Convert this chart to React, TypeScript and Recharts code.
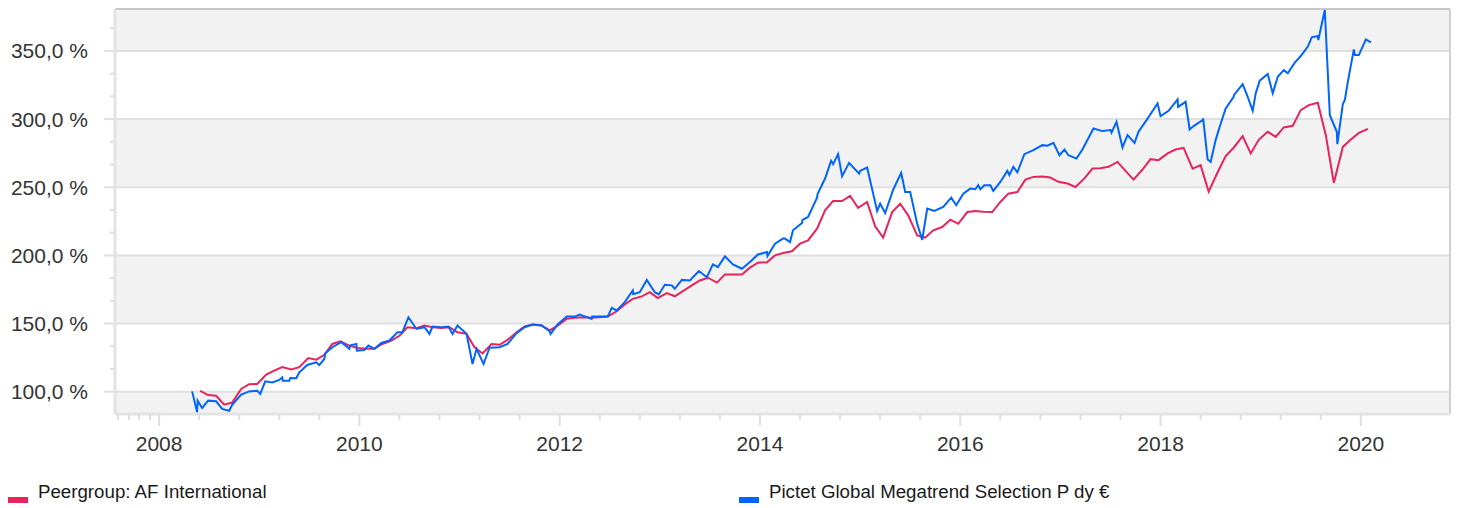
import React from 'react';
import { LineChart, Line, XAxis, YAxis, ReferenceArea, ReferenceLine } from 'recharts';

const peerName = 'Peergroup: AF International';
const fundName = 'Pictet Global Megatrend Selection P dy €';
const peerColor = '#e8245c';
const fundColor = '#0064ff';

const peerYears = [
  2008.41, 2008.49, 2008.57, 2008.65, 2008.73, 2008.82, 2008.90, 2008.98,
  2009.07, 2009.15, 2009.23, 2009.32, 2009.40, 2009.49, 2009.57, 2009.65, 2009.73, 2009.81, 2009.90, 2009.98,
  2010.07, 2010.15, 2010.23, 2010.32, 2010.40, 2010.48, 2010.57, 2010.65, 2010.73, 2010.82, 2010.90, 2010.98,
  2011.07, 2011.15, 2011.23, 2011.32, 2011.40, 2011.48, 2011.57, 2011.65, 2011.73, 2011.82, 2011.90, 2011.98,
  2012.07, 2012.15, 2012.23, 2012.32, 2012.40, 2012.48, 2012.57, 2012.65, 2012.73, 2012.82, 2012.90, 2012.98,
  2013.07, 2013.15, 2013.23, 2013.32, 2013.40, 2013.48, 2013.57, 2013.65, 2013.73, 2013.82, 2013.90, 2013.98,
  2014.07, 2014.15, 2014.23, 2014.32, 2014.40, 2014.48, 2014.57, 2014.65, 2014.73, 2014.82, 2014.90, 2014.98,
  2015.07, 2015.15, 2015.23, 2015.32, 2015.40, 2015.48, 2015.57, 2015.65, 2015.73, 2015.82, 2015.90, 2015.98,
  2016.07, 2016.15, 2016.23, 2016.32, 2016.40, 2016.48, 2016.57, 2016.65, 2016.73, 2016.82, 2016.90, 2016.98,
  2017.07, 2017.15, 2017.24, 2017.32, 2017.40, 2017.48, 2017.57, 2017.65, 2017.73, 2017.82, 2017.90, 2017.98,
  2018.07, 2018.15, 2018.23, 2018.32, 2018.40, 2018.48, 2018.57, 2018.65, 2018.73, 2018.82, 2018.90, 2018.98,
  2019.07, 2019.15, 2019.23, 2019.32, 2019.40, 2019.48, 2019.57, 2019.65, 2019.73, 2019.82, 2019.90, 2019.98,
  2020.07,
];
const peerValues = [
  100.5, 97.5, 97.0, 90.5, 92.0, 102.0, 105.5, 105.6,
  112.5, 115.4, 118.0, 116.2, 118.0, 124.7, 123.5, 127.0, 135.0, 137.0, 133.8, 132.0,
  131.4, 131.4, 135.0, 137.5, 141.0, 147.3, 146.5, 148.5, 147.3, 146.8, 147.3, 143.6,
  142.4, 132.6, 128.0, 135.0, 134.4, 138.0, 143.6, 147.8, 149.3, 148.5, 144.9, 148.5,
  153.4, 154.2, 154.6, 154.2, 154.6, 155.1, 159.0, 164.0, 168.1, 169.9, 173.0, 168.6,
  172.3, 170.0, 173.8, 178.0, 181.6, 183.6, 180.0, 186.0, 186.0, 186.0, 191.0, 194.6,
  195.0, 200.0, 201.7, 203.0, 208.6, 211.0, 219.6, 233.0, 239.9, 239.9, 243.6, 234.8,
  239.2, 221.3, 213.0, 231.8, 237.9, 229.4, 214.7, 213.0, 218.4, 220.8, 226.2, 223.2,
  231.8, 232.6, 232.0, 231.8, 239.2, 245.3, 246.5, 255.6, 257.6, 257.8, 257.1, 254.0,
  252.7, 250.2, 256.5, 263.7, 264.0, 265.0, 268.6, 262.0, 255.6, 263.0, 270.6, 269.9,
  274.8, 277.7, 278.9, 263.7, 266.2, 246.8, 261.0, 272.8, 279.0, 287.5, 274.8, 284.8,
  290.7, 287.0, 293.9, 295.1, 306.6, 310.3, 312.0, 288.2, 253.2, 279.6, 285.0, 289.9,
  292.8,
];

const fundYears = [
  2008.33, 2008.38, 2008.385, 2008.43, 2008.49, 2008.57, 2008.63, 2008.70, 2008.73, 2008.82, 2008.90, 2008.98,
  2009.01, 2009.06, 2009.13, 2009.20, 2009.23, 2009.235, 2009.30, 2009.31, 2009.37, 2009.40, 2009.48, 2009.57,
  2009.60, 2009.65, 2009.66, 2009.73, 2009.82, 2009.90, 2009.91, 2009.97, 2009.975,
  2010.05, 2010.09, 2010.15, 2010.22, 2010.30, 2010.38, 2010.43, 2010.49, 2010.57, 2010.65, 2010.70, 2010.73,
  2010.82, 2010.89, 2010.93, 2010.98,
  2011.07, 2011.13, 2011.17, 2011.24, 2011.30, 2011.40, 2011.48, 2011.57, 2011.65, 2011.73, 2011.82, 2011.90,
  2011.91, 2011.98,
  2012.07, 2012.15, 2012.20, 2012.32, 2012.325, 2012.40, 2012.48, 2012.52, 2012.57, 2012.65, 2012.73, 2012.735,
  2012.80, 2012.87, 2012.95, 2012.99,
  2013.05, 2013.12, 2013.15, 2013.22, 2013.30, 2013.39, 2013.47, 2013.53, 2013.58, 2013.65, 2013.73, 2013.82,
  2013.90, 2013.98,
  2014.07, 2014.075, 2014.15, 2014.23, 2014.25, 2014.30, 2014.33, 2014.42, 2014.425, 2014.48, 2014.57, 2014.575,
  2014.65, 2014.71, 2014.73, 2014.78, 2014.82, 2014.89, 2014.99, 2015.00,
  2015.07, 2015.17, 2015.20, 2015.25, 2015.33, 2015.41, 2015.45, 2015.50, 2015.57, 2015.62, 2015.67, 2015.74,
  2015.83, 2015.91, 2015.96,
  2016.03, 2016.10, 2016.15, 2016.18, 2016.20, 2016.24, 2016.30, 2016.33, 2016.40, 2016.47, 2016.49, 2016.53,
  2016.57, 2016.64, 2016.73, 2016.82, 2016.87, 2016.93, 2016.99,
  2017.04, 2017.08, 2017.16, 2017.22, 2017.33, 2017.42, 2017.50, 2017.51, 2017.56, 2017.62, 2017.67, 2017.74,
  2017.78, 2017.86, 2017.97,
  2018.00, 2018.08, 2018.17, 2018.175, 2018.25, 2018.29, 2018.33, 2018.42, 2018.425, 2018.47, 2018.50, 2018.55,
  2018.58, 2018.585, 2018.65, 2018.73, 2018.735, 2018.82, 2018.87, 2018.92, 2018.95, 2018.99,
  2019.07, 2019.12, 2019.17, 2019.23, 2019.27, 2019.34, 2019.40, 2019.47, 2019.51, 2019.57, 2019.575, 2019.64,
  2019.69, 2019.76, 2019.765, 2019.82, 2019.84, 2019.87, 2019.93, 2019.94, 2019.98,
  2020.05, 2020.10,
];
const fundValues = [
  100.2, 84.8, 93.4, 88.0, 93.4, 92.9, 87.3, 86.0, 90.4, 97.8, 100.2, 100.7,
  98.3, 107.6, 106.8, 108.6, 110.5, 108.0, 108.0, 110.0, 109.8, 114.2, 119.6, 121.5,
  119.5, 124.0, 128.2, 132.6, 136.3, 131.4, 134.0, 135.0, 130.1,
  130.6, 133.8, 131.4, 135.8, 137.5, 143.6, 143.6, 154.6, 146.0, 147.3, 142.4, 147.8,
  147.3, 147.8, 142.4, 148.5,
  142.4, 120.3, 131.4, 120.3, 132.3, 132.6, 135.0, 142.9, 147.3, 149.3, 148.5, 144.3,
  142.4, 149.3,
  155.1, 155.1, 156.6, 153.4, 155.1, 155.1, 155.1, 161.5, 159.6, 165.7, 174.3, 171.5,
  173.0, 182.0, 173.0, 171.3,
  178.4, 178.0, 175.5, 182.0, 181.6, 188.5, 184.0, 193.4, 191.4, 199.3, 193.4, 190.2,
  195.1, 200.7,
  202.4, 199.5, 208.6, 212.3, 212.3, 209.8, 218.4, 223.8, 226.0, 228.2, 242.4, 245.0,
  256.4, 269.4, 267.0, 274.3, 258.1, 267.9, 260.0, 262.0,
  264.5, 232.6, 238.0, 231.1, 248.2, 260.5, 246.5, 246.5, 223.2, 211.4, 234.3, 232.6,
  235.5, 242.4, 236.8,
  245.3, 249.0, 248.5, 251.5, 248.5, 251.5, 251.5, 247.3, 253.9, 262.0, 259.0, 265.0,
  261.0, 274.3, 277.2, 280.9, 280.5, 282.6, 273.5,
  277.7, 273.5, 271.0, 277.7, 293.1, 291.2, 292.0, 290.0, 298.0, 279.2, 288.2, 282.6,
  290.7, 299.3, 311.5,
  302.2, 306.1, 314.5, 309.0, 312.7, 292.4, 294.9, 299.3, 300.5, 270.3, 268.6, 284.6,
  291.9, 293.1, 307.8, 316.4, 318.0, 325.7, 316.4, 306.1, 318.9, 328.2,
  333.1, 318.9, 331.1, 336.0, 333.6, 341.4, 346.3, 353.2, 360.0, 361.0, 358.0, 380.1,
  302.9, 290.7, 281.6, 311.0, 314.0, 327.4, 351.2, 347.0, 347.0,
  358.5, 356.3,
];

const yMajorTicks = [100, 150, 200, 250, 300, 350];
const yMinorTicks = [116.67, 133.33, 166.67, 183.33, 216.67, 233.33, 266.67, 283.33, 316.67, 333.33, 366.67];
const xMajorTicks = [2008, 2010, 2012, 2014, 2016, 2018, 2020];
const xMinorTicks = [
  2007.59, 2007.7, 2007.8, 2007.91,
  2008.4, 2008.8, 2009.2, 2009.6, 2010.4, 2010.8, 2011.2, 2011.6,
  2012.4, 2012.8, 2013.2, 2013.6, 2014.4, 2014.8, 2015.2, 2015.6,
  2016.4, 2016.8, 2017.2, 2017.6, 2018.4, 2018.8, 2019.2, 2019.6,
];
const yDomain: [number, number] = [83.6, 380.8];
const xDomain: [number, number] = [2007.56, 2020.89];
const bands: [number, number][] = [[83.6, 100], [150, 200], [250, 300], [350, 380.8]];

const peerData = peerYears.map((t, i) => ({ t, v: peerValues[i] }));
const fundData = fundYears.map((t, i) => ({ t, v: fundValues[i] }));

const fmtPct = (v: number) => v.toFixed(1).replace('.', ',') + ' %';

const YTick = (props: any) => {
  const { x, y, payload } = props;
  const major = yMajorTicks.includes(payload.value);
  return (
    <g>
      <line x1={x - (major ? 11 : 5)} x2={x} y1={y} y2={y} stroke="#e0e0e0" strokeWidth={2} />
      {major && (
        <text x={x - 27} y={y} dy={7.5} textAnchor="end" fontSize={21} fill="#333" fontFamily="Liberation Sans, Arial, sans-serif">
          {fmtPct(payload.value)}
        </text>
      )}
    </g>
  );
};

const XTick = (props: any) => {
  const { x, y, payload } = props;
  const major = xMajorTicks.includes(payload.value);
  return (
    <g>
      <line x1={x} x2={x} y1={y} y2={y + (major ? 12 : 6)} stroke="#e0e0e0" strokeWidth={2} />
      {major && (
        <text x={x} y={y} dy={36.5} textAnchor="middle" fontSize={21} fill="#333" fontFamily="Liberation Sans, Arial, sans-serif">
          {payload.value}
        </text>
      )}
    </g>
  );
};

const legendItems = [
  { name: peerName, color: peerColor, left: 8 },
  { name: fundName, color: fundColor, left: 739 },
];

export default function App() {
  return (
    <div style={{ position: 'absolute', left: 0, top: 0, width: 1460, height: 508, background: '#fff' }}>
      <LineChart width={1460} height={508} margin={{ top: 9, right: 10, left: 0, bottom: 0 }}>
        {bands.map(([a, b], i) => (
          <ReferenceArea key={'b' + i} y1={a} y2={b} fill="#f2f2f2" fillOpacity={1} stroke="none" ifOverflow="hidden" />
        ))}
        {yMajorTicks.map((v) => (
          <ReferenceLine key={'g' + v} y={v} stroke="#e0e0e0" strokeWidth={2} />
        ))}
        <ReferenceLine y={yDomain[1]} stroke="#c8c8c8" strokeWidth={2} />
        <ReferenceLine x={xDomain[1]} stroke="#d0d0d0" strokeWidth={2} />
        <XAxis
          dataKey="t"
          type="number"
          domain={xDomain}
          allowDataOverflow
          ticks={[...xMinorTicks, ...xMajorTicks].sort((a, b) => a - b)}
          interval={0}
          height={94}
          tickSize={0}
          tickMargin={0}
          tickLine={false}
          axisLine={{ stroke: '#e3e3e3', strokeWidth: 3 }}
          tick={<XTick />}
        />
        <YAxis
          type="number"
          domain={yDomain}
          allowDataOverflow
          ticks={[...yMajorTicks, ...yMinorTicks].sort((a, b) => a - b)}
          interval={0}
          width={115}
          tickSize={0}
          tickMargin={0}
          tickLine={false}
          axisLine={{ stroke: '#e3e3e3', strokeWidth: 3 }}
          tick={<YTick />}
        />
        <Line data={peerData} dataKey="v" name={peerName} stroke={peerColor} strokeWidth={2} dot={false} isAnimationActive={false} type="linear" />
        <Line data={fundData} dataKey="v" name={fundName} stroke={fundColor} strokeWidth={2} dot={false} isAnimationActive={false} type="linear" />
      </LineChart>
      {legendItems.map((it) => (
        <div key={it.name} style={{ position: 'absolute', left: it.left, top: 482, height: 22, fontFamily: 'Liberation Sans, Arial, sans-serif', fontSize: 18.7, color: '#1a1a1a', whiteSpace: 'nowrap' }}>
          <span style={{ position: 'absolute', left: 0, top: 15, width: 20, height: 6, background: it.color }} />
          <span style={{ position: 'absolute', left: 30, top: 0, lineHeight: '20px' }}>{it.name}</span>
        </div>
      ))}
    </div>
  );
}
